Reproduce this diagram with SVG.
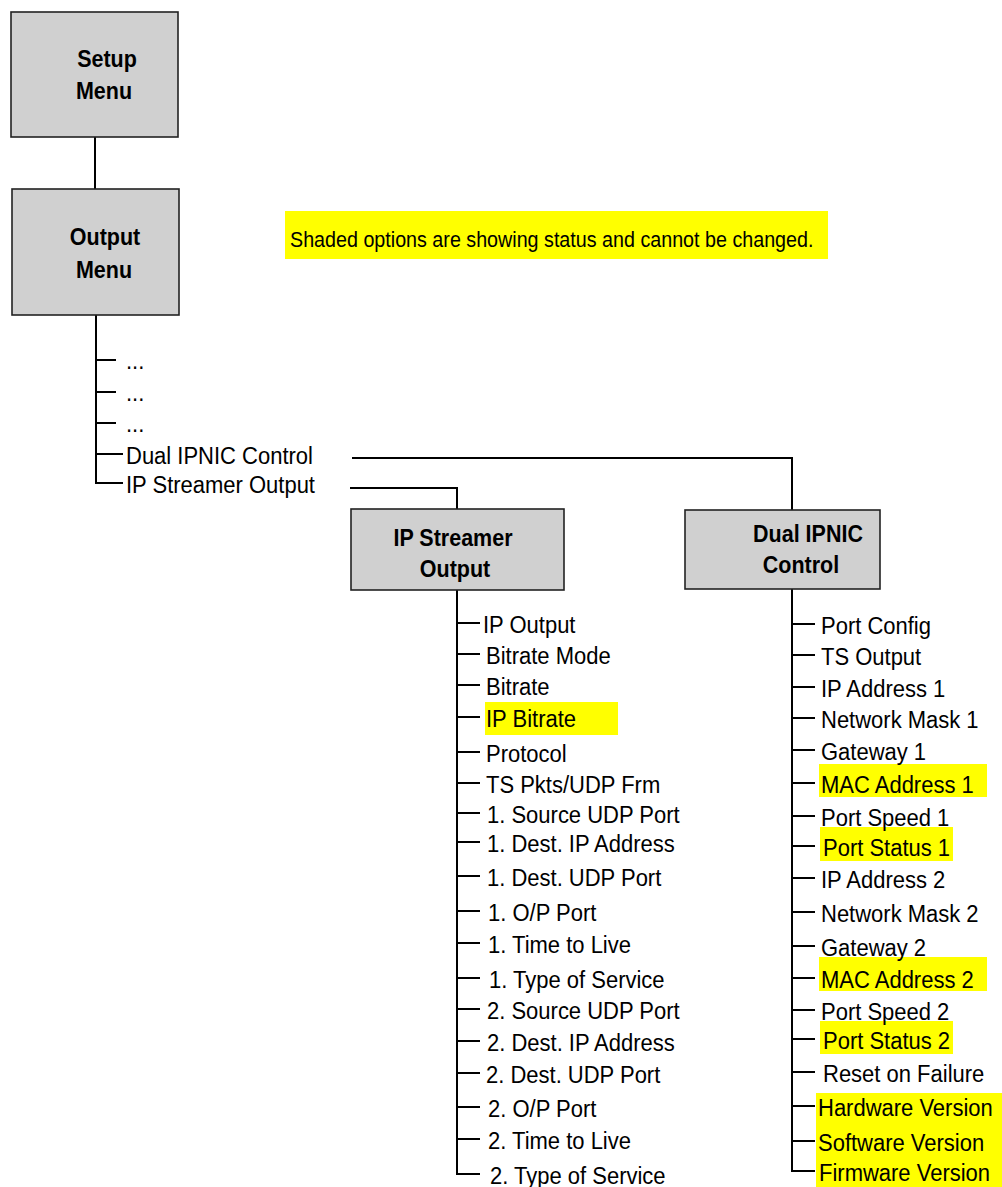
<svg xmlns="http://www.w3.org/2000/svg" width="1002" height="1187" viewBox="0 0 1002 1187">
<style>
.box{fill:#d0d0d0;stroke:#222;stroke-width:1.6}
.bt{font-family:"Liberation Sans",Arial,sans-serif;font-size:21.5px;font-weight:bold;fill:#000;text-anchor:middle}
.t{font-family:"Liberation Sans",Arial,sans-serif;font-size:22px;fill:#000}
.note{font-family:"Liberation Sans",Arial,sans-serif;font-size:19.7px;fill:#000}
.hl{fill:#ffff00}
.ln{fill:none;stroke:#000;stroke-width:2}
</style>
<rect width="1002" height="1187" fill="#fff"/>

<g id="connectors">
<path class="ln" d="M95,137V189"/>
<path class="ln" d="M96,315V483H123M96,360H116M96,392H116M96,423H116M96,454H123"/>
<path class="ln" d="M352,458H792V510"/>
<path class="ln" d="M350,488H457V509"/>
<path class="ln" d="M457,590V1174H480M457,623H480M457,654H480M457,685H480M457,717H480M457,752H480M457,783H480M457,813H480M457,842H480M457,876H480M457,911H480M457,943H480M457,978H480M457,1009H480M457,1041H480M457,1073H480M457,1107H480M457,1139H480"/>
<path class="ln" d="M792,589V1171H815M792,624H815M792,655H815M792,687H815M792,718H815M792,750H815M792,783H815M792,816H815M792,846H815M792,878H815M792,912H815M792,946H815M792,978H815M792,1010H815M792,1039H815M792,1072H815M792,1106H815M792,1141H815"/>
</g>

<g id="setup-menu">
<rect class="box" x="11" y="12" width="167" height="125"/>
<text class="bt" transform="translate(107 67) scale(1 1.12)">Setup</text>
<text class="bt" transform="translate(104 99) scale(1 1.12)">Menu</text>
</g>

<g id="output-menu">
<rect class="box" x="12" y="189" width="167" height="126"/>
<text class="bt" transform="translate(105 245) scale(1 1.12)">Output</text>
<text class="bt" transform="translate(104 278) scale(1 1.12)">Menu</text>
</g>

<g id="note">
<rect class="hl" x="285" y="211" width="543" height="48"/>
<text class="note" transform="translate(290 247) scale(1 1.08)">Shaded options are showing status and cannot be changed.</text>
</g>

<g id="output-menu-items">
<text class="t" transform="translate(126 369) scale(1 1.07)">...</text>
<text class="t" transform="translate(126 401) scale(1 1.07)">...</text>
<text class="t" transform="translate(126 432) scale(1 1.07)">...</text>
<text class="t" transform="translate(126 464) scale(1 1.07)">Dual IPNIC Control</text>
<text class="t" transform="translate(126 493) scale(1 1.07)">IP Streamer Output</text>
</g>

<g id="ip-streamer-output">
<rect class="box" x="351" y="509" width="213" height="81"/>
<text class="bt" transform="translate(453 546) scale(1 1.12)">IP Streamer</text>
<text class="bt" transform="translate(455 577) scale(1 1.12)">Output</text>
</g>

<g id="dual-ipnic-control">
<rect class="box" x="685" y="510" width="195" height="79"/>
<text class="bt" transform="translate(808 542) scale(1 1.12)">Dual IPNIC</text>
<text class="bt" transform="translate(801 573) scale(1 1.12)">Control</text>
</g>

<g id="ip-streamer-items">
<rect class="hl" x="485" y="702" width="133" height="33"/>
<text class="t" transform="translate(483 633) scale(1 1.07)">IP Output</text>
<text class="t" transform="translate(486 664) scale(1 1.07)">Bitrate Mode</text>
<text class="t" transform="translate(486 695) scale(1 1.07)">Bitrate</text>
<text class="t" transform="translate(486 727) scale(1 1.07)">IP Bitrate</text>
<text class="t" transform="translate(486 762) scale(1 1.07)">Protocol</text>
<text class="t" transform="translate(486 793) scale(1 1.07)">TS Pkts/UDP Frm</text>
<text class="t" transform="translate(487 823) scale(1 1.07)">1. Source UDP Port</text>
<text class="t" transform="translate(487 852) scale(1 1.07)">1. Dest. IP Address</text>
<text class="t" transform="translate(487 886) scale(1 1.07)">1. Dest. UDP Port</text>
<text class="t" transform="translate(488 921) scale(1 1.07)">1. O/P Port</text>
<text class="t" transform="translate(488 953) scale(1 1.07)">1. Time to Live</text>
<text class="t" transform="translate(489 988) scale(1 1.07)">1. Type of Service</text>
<text class="t" transform="translate(487 1019) scale(1 1.07)">2. Source UDP Port</text>
<text class="t" transform="translate(487 1051) scale(1 1.07)">2. Dest. IP Address</text>
<text class="t" transform="translate(486 1083) scale(1 1.07)">2. Dest. UDP Port</text>
<text class="t" transform="translate(488 1117) scale(1 1.07)">2. O/P Port</text>
<text class="t" transform="translate(488 1149) scale(1 1.07)">2. Time to Live</text>
<text class="t" transform="translate(490 1184) scale(1 1.07)">2. Type of Service</text>
</g>

<g id="dual-ipnic-items">
<rect class="hl" x="819" y="764" width="168" height="33"/>
<rect class="hl" x="820" y="827" width="133" height="34"/>
<rect class="hl" x="819" y="957" width="168" height="34"/>
<rect class="hl" x="820" y="1021" width="133" height="33"/>
<rect class="hl" x="816" y="1093" width="186" height="94"/>
<text class="t" transform="translate(821 634) scale(1 1.07)">Port Config</text>
<text class="t" transform="translate(821 665) scale(1 1.07)">TS Output</text>
<text class="t" transform="translate(821 697) scale(1 1.07)">IP Address 1</text>
<text class="t" transform="translate(821 728) scale(1 1.07)">Network Mask 1</text>
<text class="t" transform="translate(821 760) scale(1 1.07)">Gateway 1</text>
<text class="t" transform="translate(821 793) scale(1 1.07)">MAC Address 1</text>
<text class="t" transform="translate(821 826) scale(1 1.07)">Port Speed 1</text>
<text class="t" transform="translate(823 856) scale(1 1.07)">Port Status 1</text>
<text class="t" transform="translate(821 888) scale(1 1.07)">IP Address 2</text>
<text class="t" transform="translate(821 922) scale(1 1.07)">Network Mask 2</text>
<text class="t" transform="translate(821 956) scale(1 1.07)">Gateway 2</text>
<text class="t" transform="translate(821 988) scale(1 1.07)">MAC Address 2</text>
<text class="t" transform="translate(821 1020) scale(1 1.07)">Port Speed 2</text>
<text class="t" transform="translate(823 1049) scale(1 1.07)">Port Status 2</text>
<text class="t" transform="translate(823 1082) scale(1 1.07)">Reset on Failure</text>
<text class="t" transform="translate(818 1116) scale(1 1.07)">Hardware Version</text>
<text class="t" transform="translate(818 1151) scale(1 1.07)">Software Version</text>
<text class="t" transform="translate(819 1181) scale(1 1.07)">Firmware Version</text>
</g>
</svg>
